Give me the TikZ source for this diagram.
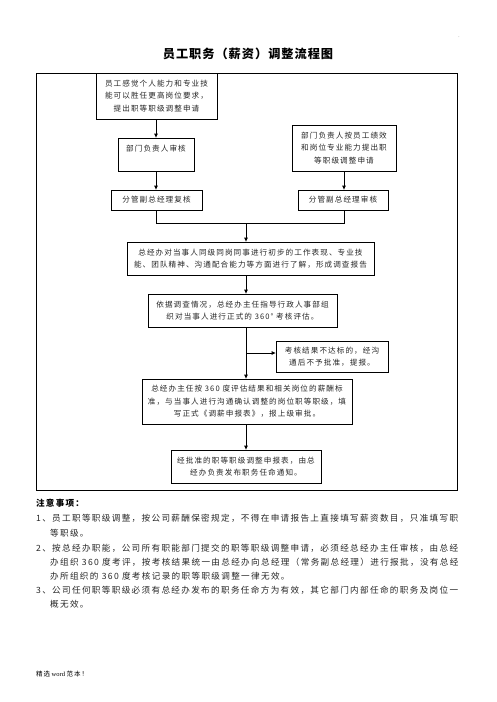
\documentclass[tikz,border=0pt]{standalone}
\usepackage{fontspec}
\setmainfont{Liberation Serif}
\newfontfamily\cjk[LetterSpace=14]{Noto Sans CJK SC}
\newfontfamily\cjkn[LetterSpace=15.5]{Noto Sans CJK SC}
\newfontfamily\cjkt[LetterSpace=8]{Noto Sans CJK SC}
\usetikzlibrary{arrows.meta}
\begin{document}
\begin{tikzpicture}[x=1pt,y=-1pt,
 box/.style={draw=black,line width=0.8pt,inner sep=0pt,align=center,font=\cjk\fontsize{7.6}{12.5}\selectfont,text=black!85},
 arr/.style={line width=0.8pt,-{Triangle[length=4pt,width=3.5pt]}},
 ln/.style={line width=0.8pt},
 note/.style={anchor=base west,inner sep=0pt,font=\cjkn\fontsize{8.6}{14.3}\selectfont,text=black!85}]
\useasboundingbox (0,0) rectangle (496,702);
\fill[white] (0,0) rectangle (496,702);
\node[inner sep=0pt,text=black!60,font=\fontsize{5}{6}\selectfont] (dot) at (459,37) {.};
\node[inner sep=0pt,font=\cjkt\bfseries\fontsize{12.2}{14}\selectfont] (title) at (248,54) {员工职务（薪资）调整流程图};
\node[draw=black,line width=0.8pt,inner sep=0pt,minimum width=421pt,minimum height=417pt] (frame) at (246.5,281.5) {};
% coordinates of columns
\coordinate (lc) at (156,0);
\coordinate (rc) at (344,0);
\coordinate (cc) at (246,0);
% boxes
\node[box,minimum width=121pt,minimum height=46pt] (b1) at (156.5,96) {员工感觉个人能力和专业技\\能可以胜任更高岗位要求，\\提出职等职级调整申请};
\node[box,minimum width=76pt,text height=13pt,text depth=20pt] (b2) at (156,154.5) {部门负责人审核};
\node[box,minimum width=91pt,minimum height=20pt] (b3) at (156.5,200) {分管副总经理复核};
\node[box,minimum width=104pt,minimum height=46pt] (ra) at (344,148) {部门负责人按员工绩效\\和岗位专业能力提出职\\等职级调整申请};
\node[box,minimum width=90pt,minimum height=20pt] (rb) at (343,200) {分管副总经理审核};
\node[box,minimum width=247pt,minimum height=33pt] (b4) at (250.5,258.5) {总经办对当事人同级同岗同事进行初步的工作表现、专业技\\能、团队精神、沟通配合能力等方面进行了解，形成调查报告};
\node[box,minimum width=189pt,minimum height=33pt] (b5) at (242.5,310.5) {依据调查情况，总经办主任指导行政人事部组\\织对当事人进行正式的 360° 考核评估。};
\node[box,minimum width=112pt,minimum height=31pt] (sd) at (332,356.5) {考核结果不达标的，经沟\\通后不予批准，提报。};
\node[box,minimum width=210pt,minimum height=45pt] (b6) at (247,401.5) {总经办主任按 360 度评估结果和相关岗位的薪酬标\\准，与当事人进行沟通确认调整的岗位职等职级，填\\写正式《调薪申报表》，报上级审批。};
\node[box,minimum width=150pt,minimum height=33pt] (b7) at (246,466.5) {经批准的职等职级调整申报表，由总\\经办负责发布职务任命通知。};
% connectors
\draw[arr] (b1.south -| lc) -- (b2.north -| lc);
\draw[arr] (b2.south -| lc) -- (b3.north -| lc);
\draw[arr] (ra.south -| rc) -- (rb.north -| rc);
\coordinate (ml) at (156,223);
\coordinate (mr) at (344,223);
\coordinate (mc) at (246,223);
\draw[ln] (b3.south -| lc) -- (ml) -- (mr) -- (rb.south -| rc);
\draw[arr] (mc) -- (b4.north -| mc);
\draw[arr] (b4.south -| cc) -- (b5.north -| cc);
\draw[arr] (b5.south -| cc) -- (b6.north -| cc);
\coordinate (br) at (246,353);
\draw[arr] (br) -- (br -| sd.west);
\draw[arr] (b6.south -| cc) -- (b7.north -| cc);
% notes
\node[note,font=\cjk\bfseries\fontsize{8.6}{14.3}\selectfont,text=black] (nh) at (36,506.3) {注意事项：};
\node[note] (n1a) at (36,521.3) {1、员工职等职级调整，按公司薪酬保密规定，不得在申请报告上直接填写薪资数目，只准填写职};
\node[note] (n1b) at (50,536.3) {等职级。};
\node[note] (n2a) at (36,551.3) {2、按总经办职能，公司所有职能部门提交的职等职级调整申请，必须经总经办主任审核，由总经};
\node[note] (n2b) at (50,565.3) {办组织 360 度考评，按考核结果统一由总经办向总经理（常务副总经理）进行报批，没有总经};
\node[note] (n2c) at (50,579.3) {办所组织的 360 度考核记录的职等职级调整一律无效。};
\node[note] (n3a) at (36,593.3) {3、公司任何职等职级必须有总经办发布的职务任命方为有效，其它部门内部任命的职务及岗位一};
\node[note] (n3b) at (50,607.3) {概无效。};
\node[anchor=base west,inner sep=0pt,font=\fontsize{6.5}{8}\selectfont] (ft) at (36,676.5) {{\cjk 精选} word {\cjk 范本！}};
\end{tikzpicture}
\end{document}
